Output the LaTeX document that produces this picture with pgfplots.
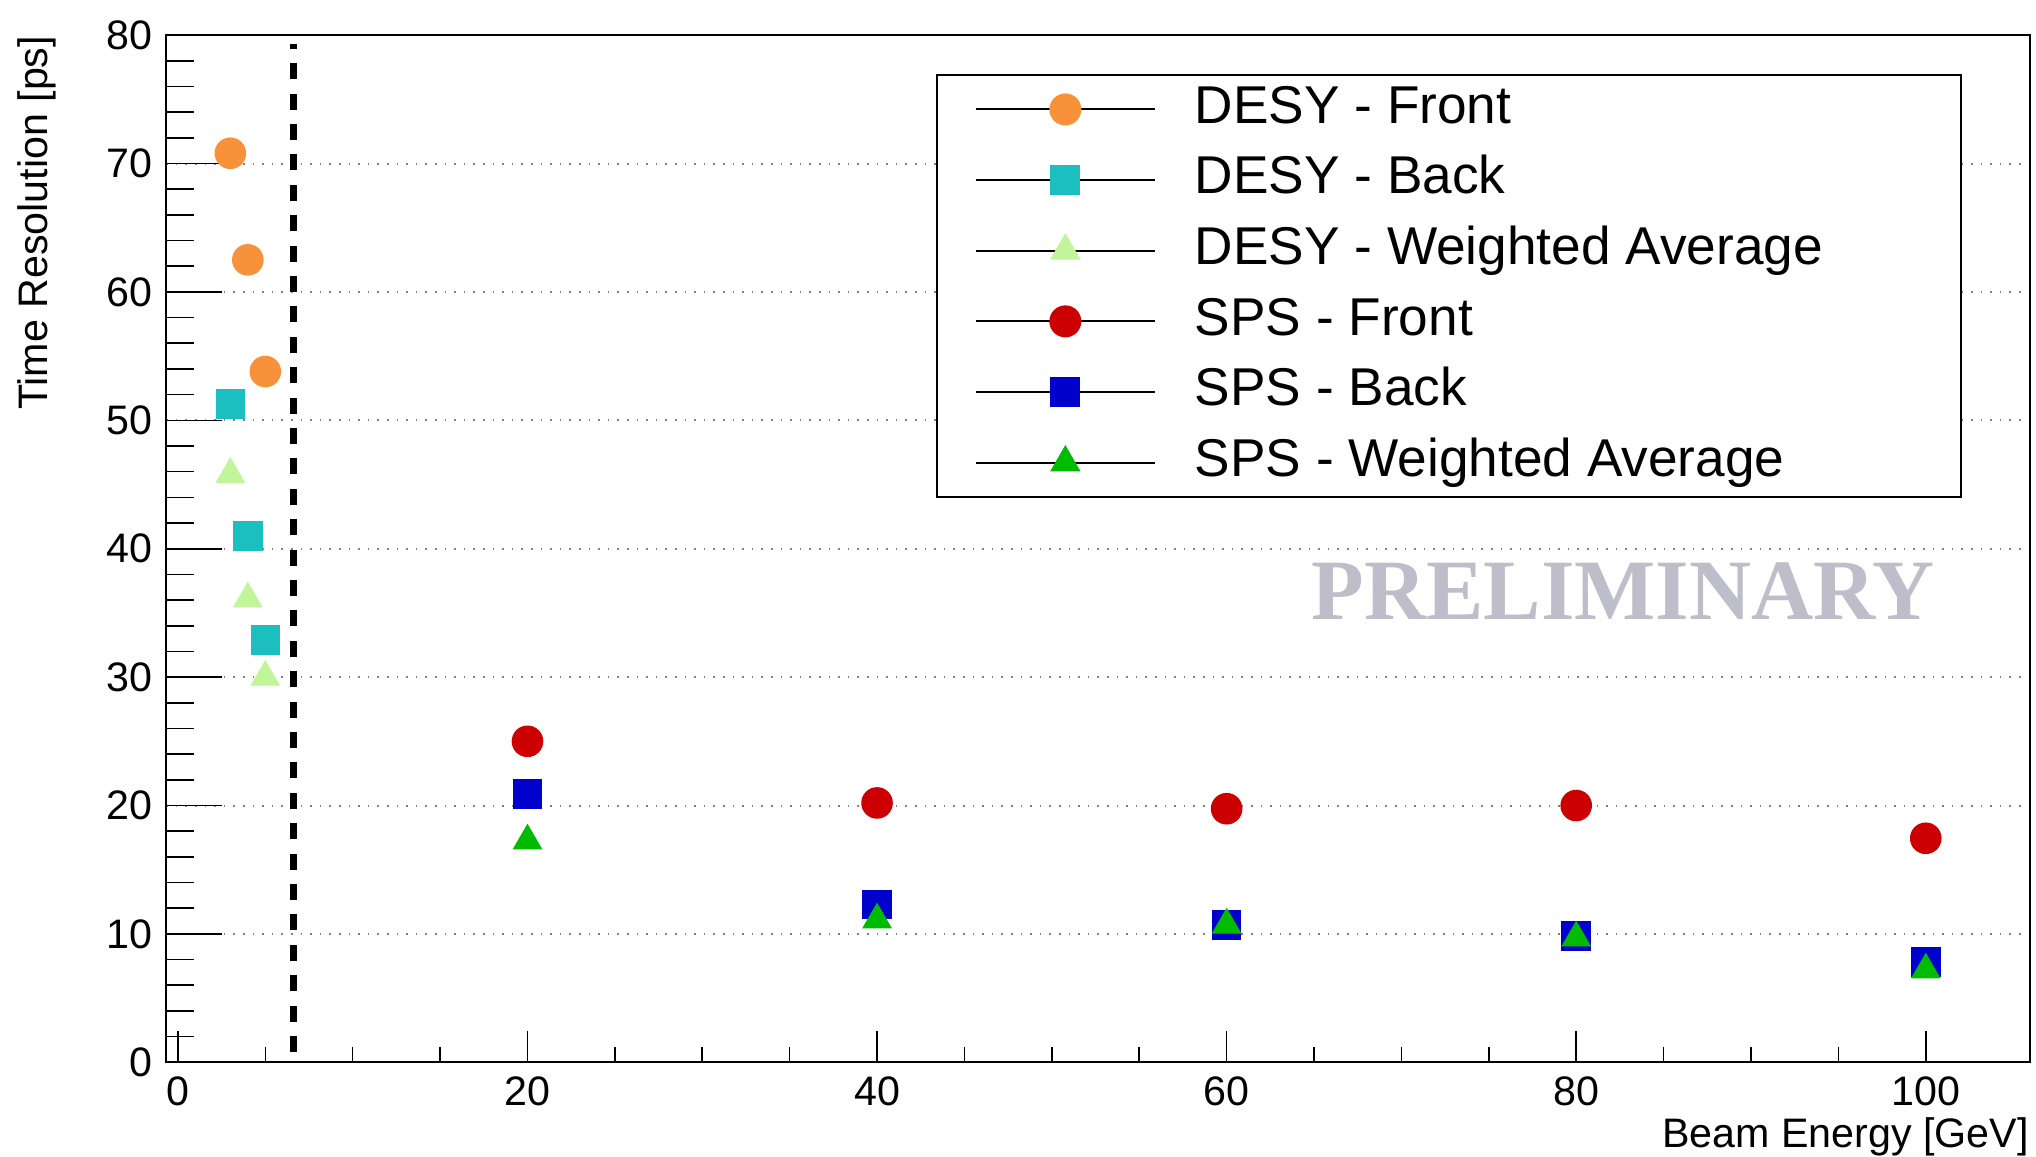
\documentclass[border=0pt]{standalone}
\usepackage{fontspec}
\setmainfont{Liberation Sans}
\newfontfamily\prelimfont{Liberation Serif}
\usepackage{pgfplots}
\pgfplotsset{compat=1.18}
\definecolor{desyfront}{HTML}{F7923A}
\definecolor{desyback}{HTML}{1BBFBF}
\definecolor{desywa}{HTML}{C2F59A}
\definecolor{spsfront}{HTML}{CC0000}
\definecolor{spsback}{HTML}{0000CC}
\definecolor{spswa}{HTML}{00BB00}
\definecolor{prelimgray}{HTML}{BEBECA}
\pgfplotsset{
 rootleg/.style={legend image code/.code={%
   \draw[black,line width=0.5pt] (0pt,0pt) -- (44.8pt,0pt);
   \draw[##1,only marks] plot coordinates {(22.4pt,0pt)};
   \path[draw=none,fill=none] (0pt,0pt) -- (54.8pt,0pt);}},
}
\newcommand\lgd[1]{\makebox[182pt][l]{#1}}

\begin{document}
\begin{tikzpicture}
\begin{axis}[
 scale only axis,width=465.85pt,height=256.8pt,
 xmin=-0.67,xmax=105.94,ymin=0,ymax=80,
 xtick={0,20,40,60,80,100},minor x tick num=3,
 ytick={0,10,...,80},minor y tick num=4,
 xtick pos=bottom,ytick pos=left,
 tick align=inside,
 x tick style={black,line width=0.4pt,/pgfplots/major tick length=7.75pt,/pgfplots/minor tick length=3.9pt},
 y tick style={black,line width=0.4pt,/pgfplots/major tick length=14pt,/pgfplots/minor tick length=7pt},
 axis line style={line width=0.5pt},
 ymajorgrids,grid style={gray,dotted,line width=0.5pt},
 /pgf/number format/assume math mode=true,
 tick label style={font=\fontsize{10.3}{12}\selectfont,inner sep=0pt},
 xticklabel style={anchor=north,yshift=-3.3pt},
 yticklabel style={anchor=east,xshift=-3.3pt},
 xlabel={Beam Energy [GeV]},
 ylabel={Time Resolution [ps]},
 label style={font=\fontsize{10.3}{12}\selectfont,inner sep=0pt},
 xlabel style={at={(rel axis cs:1,0)},anchor=north east,yshift=-13.7pt},
 ylabel style={at={([xshift=-32.4pt]rel axis cs:0,1)},anchor=east},
 legend style={at={(rel axis cs:0.4132,0.9621)},anchor=north west,
   draw=black,line width=0.5pt,fill=white,
   inner xsep=9.4pt,inner ysep=2.45pt,row sep=5.36pt,
   font=\fontsize{13.3}{15}\selectfont,
   nodes={inner sep=0pt,text height=9.6pt,text depth=2.7pt}},
 legend cell align=left,
]
\addplot[dashed,black,line width=1.8pt,dash pattern=on 4pt off 3.6pt,forget plot]
 coordinates {(6.6,0.8) (6.6,79.3)};

\addplot[only marks,mark=*,mark size=3.75pt,color=desyfront,rootleg]
 coordinates {(3,70.8) (4,62.5) (5,53.8)};
\addplot[only marks,mark=square*,mark size=3.5pt,color=desyback,rootleg]
 coordinates {(3,51.25) (4,41.0) (5,32.9)};
\addplot[only marks,mark=triangle*,mark size=3.9pt,color=desywa,rootleg]
 coordinates {(3,45.8) (4,36.1) (5,30.0)};
\addplot[only marks,mark=*,mark size=3.75pt,color=spsfront,rootleg]
 coordinates {(20,25.0) (40,20.2) (60,19.75) (80,20.0) (100,17.45)};
\addplot[only marks,mark=square*,mark size=3.5pt,color=spsback,rootleg]
 coordinates {(20,20.9) (40,12.3) (60,10.7) (80,9.85) (100,7.8)};
\addplot[only marks,mark=triangle*,mark size=3.9pt,color=spswa,rootleg]
 coordinates {(20,17.25) (40,11.1) (60,10.7) (80,9.7) (100,7.2)};

\legend{\lgd{DESY - Front},\lgd{DESY - Back},\lgd{DESY - Weighted Average},
 \lgd{SPS - Front},\lgd{SPS - Back},\lgd{SPS - Weighted Average}}

\node[font=\prelimfont\bfseries\fontsize{21.5}{24}\selectfont,text=prelimgray,inner sep=0pt]
 at (axis cs:82.7,36.7) {PRELIMINARY};

\coordinate (ll) at (rel axis cs:0,0);
\coordinate (ur) at (rel axis cs:1,1);
\end{axis}
\pgfresetboundingbox
\useasboundingbox ([shift={(-41.55pt,-23.45pt)}]ll) rectangle ([shift={(1.6pt,8.78pt)}]ur);
\end{tikzpicture}
\end{document}
